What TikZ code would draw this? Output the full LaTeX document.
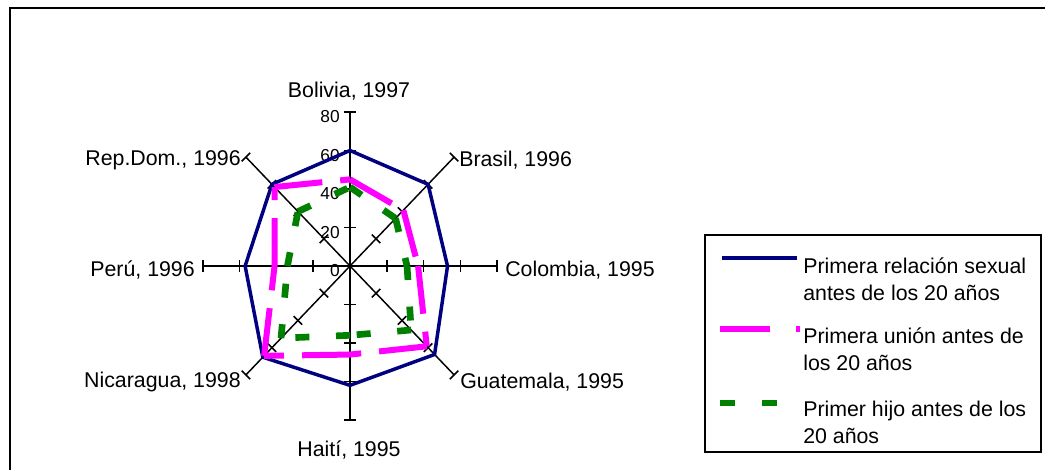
\documentclass[tikz,border=0pt]{standalone}
\usepackage{fontspec}
\setmainfont{Liberation Sans}
\usetikzlibrary{calc}
\definecolor{navyc}{RGB}{0,0,128}
\definecolor{magc}{RGB}{255,0,255}
\definecolor{greenc}{RGB}{0,128,0}
\begin{document}
\begin{tikzpicture}[x=0.75pt,y=0.75pt,
  axisline/.style={black,line width=1.1pt},
  sexo/.style={draw=navyc,line width=2.6pt,line join=miter},
  union/.style={draw=magc,line width=4.5pt,dash pattern=on 36pt off 13.5pt},
  hijo/.style={draw=greenc,line width=5pt,dash pattern=on 10.5pt off 20pt},
  cat/.style={font=\fontsize{16}{19}\selectfont,inner sep=0pt},
  val/.style={font=\fontsize{13}{15}\selectfont,inner sep=0pt,anchor=east},
  leg/.style={font=\fontsize{16}{20}\selectfont,inner sep=0pt,align=left,anchor=base west},
  frameline/.style={black,line width=1.5pt}]
\useasboundingbox (0,0) rectangle (1045,469);
% outer frame (cut by the page on the right and bottom)
\coordinate (fa) at (10,-10);
\coordinate (fb) at (10,461);
\coordinate (fc) at (1060,461);
\draw[frameline] (fa) -- (fb) -- (fc);
% centre
\coordinate (C) at (350,203);
% axes and ticks
\foreach \a [count=\i] in {90,45,0,-45,-90,-135,180,135} {
  \coordinate (end\i) at ({350+1.84*80*cos(\a)},{203+1.925*80*sin(\a)});
  \draw[axisline] (C) -- (end\i);
  \foreach \v in {20,40,60,80} {
    \coordinate (tk) at ({350+1.84*\v*cos(\a)},{203+1.925*\v*sin(\a)});
    \draw[axisline] (tk) ++(\a+90:6) -- ++(\a-90:12);
  }
}
% value labels
\foreach \v in {0,20,40,60,80} {
  \node[val] (v\v) at (340,{203+1.925*\v-5}) {\v};
}
% category labels
\node[cat] (lbol) at (349,378) {Bolivia, 1997};
\node[cat,anchor=west] (lbra) at (459,309) {Brasil, 1996};
\node[cat,anchor=west] (lcol) at (505,199) {Colombia, 1995};
\node[cat,anchor=west] (lgua) at (460,87) {Guatemala, 1995};
\node[cat] (lhai) at (349,19) {Haití, 1995};
\node[cat,anchor=east] (lnic) at (241,87) {Nicaragua, 1998};
\node[cat,anchor=east] (lper) at (195,199) {Perú, 1996};
\node[cat,anchor=east] (lrep) at (241,309) {Rep.Dom., 1996};
% data points
\foreach \a/\s/\u/\h [count=\i] in {90/60/45/41, 45/60/41/35, 0/53/37/31, -45/65/59/47, -90/62/46/36, -135/67/66/53, 180/57/41/34, 135/60/58/40} {
  \coordinate (s\i) at ({350+1.84*\s*cos(\a)},{203+1.925*\s*sin(\a)});
  \coordinate (u\i) at ({350+1.84*\u*cos(\a)},{203+1.925*\u*sin(\a)});
  \coordinate (h\i) at ({350+1.84*\h*cos(\a)},{203+1.925*\h*sin(\a)});
}
% series
\draw[sexo] (s1) -- (s2) -- (s3) -- (s4) -- (s5) -- (s6) -- (s7) -- (s8) -- cycle;
\foreach \i/\j in {1/2,2/3,3/4,4/5,5/6,6/7,7/8,8/1} {
  \draw[union] (u\i) -- (u\j);
}
\foreach \i/\j in {1/2,2/3,3/4,4/5,5/6,6/7,7/8,8/1} {
  \draw[hijo] (h\i) -- (h\j);
}
% legend
\node[draw,frameline,minimum width=336*0.75pt,minimum height=217*0.75pt,anchor=south west,inner sep=0pt] (legbox) at (704,16) {};
\coordinate (ls1) at (722,211); \coordinate (ls2) at (797,211);
\draw[sexo] (ls1) -- (ls2);
\coordinate (lu1) at (720,140); \coordinate (lu2) at (800,140);
\draw[union,dash pattern=on 37.5pt off 19.5pt] (lu1) -- (lu2);
\coordinate (lh1) at (720,66); \coordinate (lh2) at (777,66);
\draw[hijo,dash pattern=on 11.25pt off 20.25pt] (lh1) -- (lh2);
\node[leg] (t1) at (803,169) {Primera relación sexual\\antes de los 20 años};
\node[leg] (t2) at (803,99) {Primera unión antes de\\los 20 años};
\node[leg] (t3) at (803,26) {Primer hijo antes de los\\20 años};
\end{tikzpicture}
\end{document}
